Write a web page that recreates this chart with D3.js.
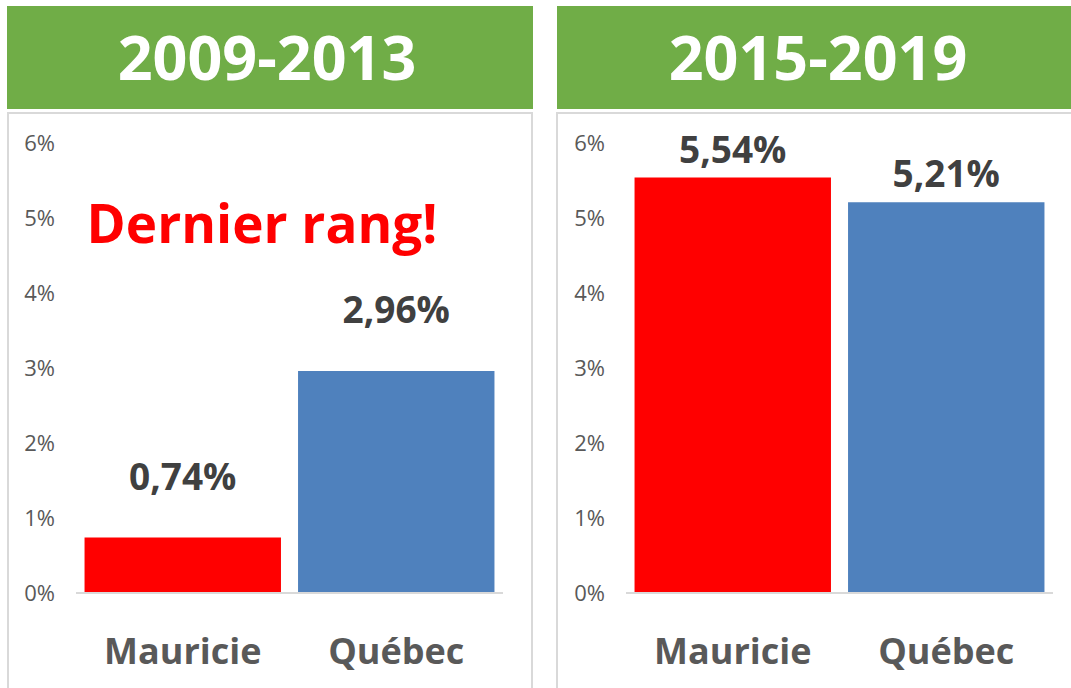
<!DOCTYPE html>
<html><head><meta charset="utf-8">
<script src="https://cdn.jsdelivr.net/npm/d3@7"></script>
<style>
html,body{margin:0;padding:0;background:#fff;}
svg{display:block;font-family:"Open Sans",sans-serif;}
</style></head>
<body>
<svg id="c" width="1071" height="688"></svg>
<script>
// ---- data ----
const categories = ["Mauricie", "Québec"];
const periods = ["2009-2013", "2015-2019"];
const values2009_2013 = [0.74, 2.96];
const values2015_2019 = [5.54, 5.21];
const tickValues = [0, 1, 2, 3, 4, 5, 6];
const annotation = "Dernier rang!";

const barColors = ["#FF0000", "#4F81BD"];
const svg = d3.select("#c");

const panels = [
  {title: periods[0], values: values2009_2013, hx0: 7, hx1: 533, tx: 267, bx0: 8, bx1: 532, ax0: 76, ax1: 503, tickX: 55, labelOff: 48, note: true},
  {title: periods[1], values: values2015_2019, hx0: 557, hx1: 1078, tx: 818, bx0: 557, bx1: 1090, ax0: 626, ax1: 1053, tickX: 605, labelOff: 15, note: false}
];

const y = d3.scaleLinear().domain([0, 6]).range([593, 143]);
const fmt = v => d3.format(".2f")(v).replace(".", ",") + "%";

panels.forEach(p => {
  const g = svg.append("g");
  // header
  g.append("rect").attr("x", p.hx0).attr("y", 6).attr("width", p.hx1 - p.hx0).attr("height", 103).attr("fill", "#70AD47");
  g.append("text").attr("x", p.tx).attr("y", 80)
    .attr("text-anchor", "middle").attr("fill", "#fff").attr("font-weight", 700).attr("font-size", 61)
    .text(p.title);
  // chart box
  g.append("rect").attr("x", p.bx0).attr("y", 113).attr("width", p.bx1 - p.bx0).attr("height", 600)
    .attr("fill", "#fff").attr("stroke", "#D9D9D9").attr("stroke-width", 2);

  const x = d3.scaleBand().domain(categories).range([p.ax0, p.ax1]).paddingInner(0.08).paddingOuter(0.04);

  // y axis labels
  const yAxis = d3.axisLeft(y).tickValues(tickValues).tickSize(0).tickPadding(0).tickFormat(d => d + "%");
  const ya = g.append("g").attr("transform", `translate(${p.tickX},0)`).call(yAxis);
  ya.select(".domain").remove();
  ya.selectAll("text").attr("fill", "#595959").attr("font-size", 22).attr("font-family", "Open Sans, sans-serif").attr("dy", "0.36em");

  // bars
  g.selectAll(".bar").data(p.values).join("rect")
    .attr("x", (d, i) => x(categories[i])).attr("width", x.bandwidth())
    .attr("y", d => y(d)).attr("height", d => y(0) - y(d))
    .attr("fill", (d, i) => barColors[i]);

  // baseline / x axis
  const xAxis = d3.axisBottom(x).tickSize(0).tickPadding(0);
  const xa = g.append("g").attr("transform", `translate(0,${y(0)})`).call(xAxis);
  xa.select(".domain").attr("stroke", "#D9D9D9").attr("stroke-width", 2).attr("d", `M${p.ax0},0H${p.ax1}`);
  xa.selectAll("text").attr("fill", "#595959").attr("font-size", 36).attr("font-weight", 700)
    .attr("font-family", "Open Sans, sans-serif").attr("dy", 0).attr("y", 71);

  // value labels
  g.selectAll(".vl").data(p.values).join("text")
    .attr("x", (d, i) => x(categories[i]) + x.bandwidth() / 2)
    .attr("y", d => y(d) - p.labelOff)
    .attr("text-anchor", "middle").attr("fill", "#404040").attr("font-size", 37).attr("font-weight", 700)
    .text(d => fmt(d));

  if (p.note) {
    g.append("text").attr("x", 262).attr("y", 243).attr("text-anchor", "middle")
      .attr("fill", "#FF0000").attr("font-size", 53).attr("font-weight", 700).text(annotation);
  }
});
</script>
</body></html>
